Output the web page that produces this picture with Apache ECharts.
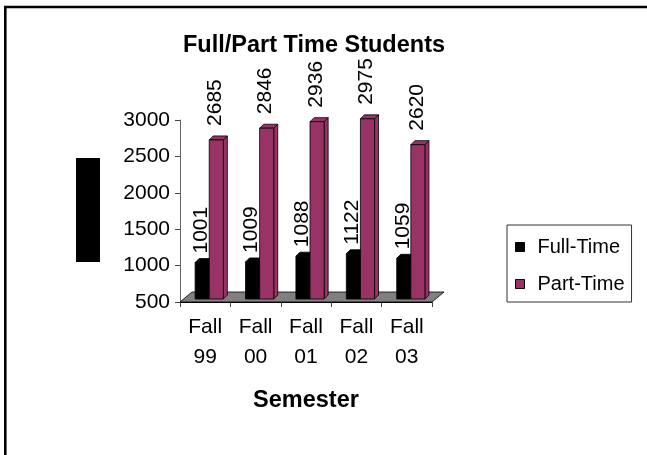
<!DOCTYPE html>
<html><head><meta charset="utf-8">
<script src="https://cdn.jsdelivr.net/npm/echarts@6/dist/echarts.min.js"></script>
<style>html,body{margin:0;padding:0;background:#fff}#c{width:647px;height:455px}</style>
</head><body><div id="c"></div>
<script>
const categories = ['Fall\n99', 'Fall\n00', 'Fall\n01', 'Fall\n02', 'Fall\n03'];
const fullTime = [1001, 1009, 1088, 1122, 1059];
const partTime = [2685, 2846, 2936, 2975, 2620];
const yMin = 500, yMax = 3000, yStep = 500;
const seriesNames = ['Full-Time', 'Part-Time'];

const FONT = '"Liberation Sans", Arial, sans-serif';
const PLUM = '#993366';

function makeBar(offsetFrac, frontColor, sideColor, topColor, labelGap) {
  return function (params, api) {
    const i = api.value(0), v = api.value(1);
    const catW = api.size([1, 0])[0];
    const bw = catW * 0.28;
    const c = api.coord([i, v]);
    const b = api.coord([i, yMin]);
    const x0 = c[0] + offsetFrac * catW;
    const x1 = x0 + bw;
    const lift = 3, dx = 4, dy = 4;
    const yT = c[1] - lift, yB = b[1] - lift;
    const st = { stroke: '#000', lineWidth: 0.8 };
    return {
      type: 'group',
      children: [
        { type: 'polygon', shape: { points: [[x1, yT], [x1 + dx, yT - dy], [x1 + dx, yB - dy], [x1, yB]] }, style: Object.assign({ fill: sideColor }, st) },
        { type: 'polygon', shape: { points: [[x0, yT], [x0 + dx, yT - dy], [x1 + dx, yT - dy], [x1, yT]] }, style: Object.assign({ fill: topColor }, st) },
        { type: 'rect', shape: { x: x0, y: yT, width: bw, height: yB - yT }, style: Object.assign({ fill: frontColor }, st) },
        { type: 'text', x: x0 + bw / 2 - 1, y: yT - dy - labelGap, rotation: Math.PI / 2,
          style: { text: String(v), x: 0, y: 0, align: 'left', verticalAlign: 'middle', font: '21px ' + FONT, fill: '#000' } }
      ]
    };
  };
}

function floorItem(params, api) {
  const cs = params.coordSys;
  const yb = cs.y + cs.height, xl = cs.x, xr = cs.x + cs.width;
  const dx = 12, dy = 10;
  return {
    type: 'polygon',
    shape: { points: [[xl, yb], [xr, yb], [xr + dx, yb - dy], [xl + dx, yb - dy]] },
    style: { fill: '#808080', stroke: '#000', lineWidth: 0.8 }
  };
}

const chart = echarts.init(document.getElementById('c'), null, { renderer: 'canvas' });
chart.setOption({
  animation: false,
  backgroundColor: '#fff',
  title: {
    text: 'Full/Part Time Students', left: 183, top: 34, padding: 0,
    textStyle: { fontSize: 23.5, fontWeight: 'bold', fontFamily: FONT, color: '#000' }
  },
  legend: {
    orient: 'vertical', left: 507, top: 225, padding: [12, 7, 8, 8],
    itemGap: 17, itemWidth: 9, itemHeight: 9, icon: 'rect', selectedMode: false,
    borderColor: '#333', borderWidth: 1,
    textStyle: { fontSize: 20, fontFamily: FONT, color: '#000', padding: [0, 0, 0, 8], lineHeight: 20 },
    data: [
      { name: seriesNames[0], itemStyle: { color: '#000', borderColor: '#000', borderWidth: 1 } },
      { name: seriesNames[1], itemStyle: { color: PLUM, borderColor: '#000', borderWidth: 1 } }
    ]
  },
  grid: { left: 180, right: 215, top: 120, bottom: 153, containLabel: false },
  xAxis: {
    type: 'category', data: categories, boundaryGap: true,
    name: 'Semester', nameLocation: 'middle', nameGap: 87,
    nameTextStyle: { fontSize: 23.5, fontWeight: 'bold', fontFamily: FONT, color: '#000' },
    axisLine: { lineStyle: { color: '#000', width: 1 } },
    axisTick: { show: true, length: 5, lineStyle: { color: '#444' } },
    axisLabel: { fontSize: 21, fontFamily: FONT, color: '#000', lineHeight: 30, margin: 10 }
  },
  yAxis: {
    type: 'value', min: yMin, max: yMax, interval: yStep,
    splitLine: { show: false },
    axisLine: { show: true, lineStyle: { color: '#666', width: 1 } },
    axisTick: { show: true, length: 5, lineStyle: { color: '#444' } },
    axisLabel: { fontSize: 21, fontFamily: FONT, color: '#000', margin: 10, formatter: v => String(v) }
  },
  graphic: [
    { type: 'rect', shape: { x: 5.3, y: 7, width: 800, height: 600 }, style: { fill: 'none', stroke: '#000', lineWidth: 2.6 }, z: 100 },
    { type: 'rect', shape: { x: 76, y: 158, width: 24, height: 104 }, style: { fill: '#000' } }
  ],
  series: [
    { type: 'custom', name: 'floor', data: [[0, yMin]], renderItem: floorItem, z: 1, silent: true, encode: { x: 0, y: 1 } },
    { type: 'custom', name: seriesNames[0], data: fullTime.map((v, i) => [i, v]), renderItem: makeBar(-0.2, '#000', '#000', '#000', 5), z: 2, itemStyle: { color: '#000' }, encode: { x: 0, y: 1 } },
    { type: 'custom', name: seriesNames[1], data: partTime.map((v, i) => [i, v]), renderItem: makeBar(0.08, PLUM, PLUM, PLUM, 10), z: 3, itemStyle: { color: PLUM }, encode: { x: 0, y: 1 } }
  ]
});
</script></body></html>
